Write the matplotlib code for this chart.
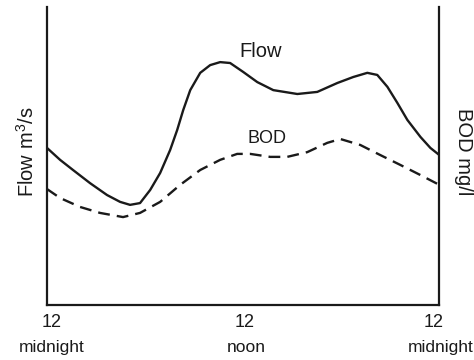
import matplotlib
matplotlib.use("Agg")
from matplotlib import pyplot as plt

plt.rcParams['font.family'] = ['Liberation Sans', 'DejaVu Sans']
plt.rcParams['mathtext.fontset'] = 'custom'
plt.rcParams['mathtext.rm'] = 'Liberation Sans'
plt.rcParams['mathtext.it'] = 'Liberation Sans'

# hours from midnight, relative level (0-100)
flow_hours = [0.00, 0.80, 1.59, 2.63, 3.67, 4.47, 5.08, 5.69, 6.31, 6.92, 7.53,
              7.96, 8.33, 8.76, 9.37, 9.98, 10.59, 11.20, 12.00, 12.86, 13.84,
              15.31, 16.53, 17.76, 18.73, 19.59, 20.20, 20.82, 21.43, 22.04,
              22.84, 23.45, 24.00]
flow_level = [52.7, 48.7, 45.3, 40.9, 36.9, 34.6, 33.6, 34.2, 38.6, 44.3, 52.0,
              58.7, 65.4, 72.1, 77.9, 80.5, 81.5, 81.2, 78.2, 74.8, 72.1,
              70.8, 71.5, 74.5, 76.5, 77.9, 77.2, 73.2, 67.8, 62.1,
              56.4, 52.7, 50.3]

bod_hours = [0.00, 0.80, 2.02, 3.24, 4.65, 5.69, 6.92, 8.14, 9.37, 10.59, 11.63,
             12.43, 13.65, 14.69, 15.92, 17.14, 17.94, 19.16, 20.39, 21.61,
             22.84, 24.00]
bod_level = [38.9, 35.9, 32.9, 30.9, 29.5, 30.9, 34.6, 40.3, 45.3, 48.7, 50.7,
             50.7, 49.7, 49.7, 51.3, 54.4, 55.7, 53.7, 50.3, 47.0,
             43.6, 40.3]

tick_top = ['12', '12', '12']
tick_bottom = ['midnight', 'noon', 'midnight']
tick_pos_top = [0.3, 12.1, 23.65]
tick_pos_bottom = [0.28, 12.2, 24.05]

fig = plt.figure(figsize=(4.74, 3.6), dpi=100)
ax = fig.add_axes([0.0992, 0.1528, 0.8278, 0.8278])

ink = '#1a1a1a'
ax.plot(flow_hours, flow_level, color=ink, lw=1.7, solid_joinstyle='round',
        solid_capstyle='round')
ax.plot(bod_hours, bod_level, color=ink, lw=1.7, dashes=(5, 3),
        dash_joinstyle='round')

ax.set_xlim(0, 24)
ax.set_ylim(0, 100)
ax.set_xticks([])
ax.set_yticks([])
ax.spines['top'].set_visible(False)
for s in ['left', 'right', 'bottom']:
    ax.spines[s].set_linewidth(1.6)
    ax.spines[s].set_color(ink)

ax.text(13.04, 85.2, 'Flow', fontsize=14.5, ha='center', va='center', color=ink)
ax.text(13.47, 56.0, 'BOD', fontsize=13, ha='center', va='center', color=ink)

tr = ax.get_xaxis_transform()
for x, t in zip(tick_pos_top, tick_top):
    ax.text(x, -0.060, t, transform=tr, fontsize=13, ha='center', va='center',
            color=ink, clip_on=False)
for x, t in zip(tick_pos_bottom, tick_bottom):
    ax.text(x, -0.144, t, transform=tr, fontsize=12.5, ha='center', va='center',
            color=ink, clip_on=False)

fig.text(27 / 474, 0.578, r'Flow m$^3$/s', rotation=90, fontsize=14.5,
         ha='center', va='center', color=ink)
fig.text(463 / 474, 0.578, 'BOD mg/l', rotation=-90, fontsize=14.5,
         ha='center', va='center', color=ink)

fig.savefig('out.png', dpi=100)
